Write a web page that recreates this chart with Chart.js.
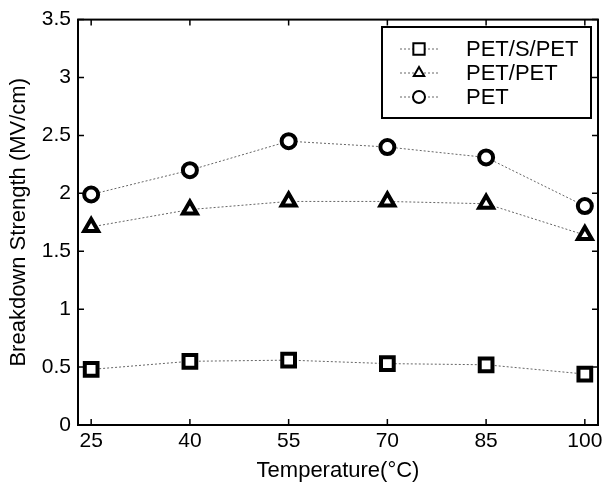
<!DOCTYPE html>
<html>
<head>
<meta charset="utf-8">
<script src="https://cdn.jsdelivr.net/npm/chart.js@4.4.1/dist/chart.umd.min.js"></script>
<style>
  html, body { margin: 0; padding: 0; background: #fff; }
  #wrap { width: 611px; height: 484px; }
</style>
</head>
<body>
<div id="wrap"><canvas id="bdChart" width="611" height="484"></canvas></div>
<script>
// 온도별 절연파괴 강도
var temps = [25, 40, 55, 70, 85, 100];
var yTicks = [0, 0.5, 1, 1.5, 2, 2.5, 3, 3.5];
var seriesNames = ['PET/S/PET', 'PET/PET', 'PET'];
var petSPet = [0.48, 0.55, 0.56, 0.53, 0.52, 0.44];
var petPet = [1.71, 1.86, 1.93, 1.93, 1.91, 1.64];
var pet = [1.99, 2.20, 2.45, 2.40, 2.31, 1.89];

var FONT = '"Liberation Sans", Arial, sans-serif';

function toXY(vals) {
    var out = [];
    for (var i = 0; i < temps.length; i++) out.push({x: temps[i], y: vals[i]});
    return out;
}

function ds(label, vals, style, r) {
    return {
        label: label,
        data: toXY(vals),
        borderColor: '#666',
        borderWidth: 1,
        borderDash: [2, 2],
        pointStyle: style,
        pointRadius: r,
        pointBorderWidth: 4,
        pointBorderColor: '#000',
        pointBackgroundColor: '#fff',
        tension: 0,
        fill: false
    };
}

// 안쪽 눈금 + 테두리 박스
var boxPlugin = {
    id: 'boxPlugin',
    afterDatasetsDraw: function(chart) {
        var c = chart.ctx, a = chart.chartArea;
        var xs = chart.scales.x, ys = chart.scales.y;
        c.save();
        c.strokeStyle = '#000';
        c.lineWidth = 2;
        c.strokeRect(a.left, a.top, a.right - a.left, a.bottom - a.top);
        c.lineWidth = 1.5;
        var len = 6;
        temps.forEach(function(t) {
            var px = xs.getPixelForValue(t);
            c.beginPath();
            c.moveTo(px, a.bottom); c.lineTo(px, a.bottom - len);
            c.moveTo(px, a.top); c.lineTo(px, a.top + len);
            c.stroke();
        });
        yTicks.forEach(function(v) {
            var py = ys.getPixelForValue(v);
            c.beginPath();
            c.moveTo(a.left, py); c.lineTo(a.left + len, py);
            c.moveTo(a.right, py); c.lineTo(a.right - len, py);
            c.stroke();
        });
        c.restore();
    }
};

// 그래프 안쪽 범례
var legendPlugin = {
    id: 'legendPlugin',
    afterDraw: function(chart) {
        var c = chart.ctx;
        var bx = 382, by = 27, bw = 209, bh = 91;
        c.save();
        c.fillStyle = '#fff';
        c.fillRect(bx, by, bw, bh);
        c.strokeStyle = '#000';
        c.lineWidth = 2;
        c.strokeRect(bx, by, bw, bh);
        var rows = [49, 73, 97];
        var rad = [8, 6, 6];
        chart.data.datasets.forEach(function(d, i) {
            var y = rows[i];
            c.strokeStyle = '#666';
            c.lineWidth = 1;
            c.setLineDash([2, 2]);
            c.beginPath();
            c.moveTo(400, y); c.lineTo(439, y);
            c.stroke();
            c.setLineDash([]);
            c.fillStyle = '#fff';
            c.strokeStyle = '#000';
            c.lineWidth = 2;
            Chart.helpers.drawPoint(c, {pointStyle: d.pointStyle, radius: rad[i], borderWidth: 2, rotation: 0}, 419, y);
            c.fillStyle = '#000';
            c.font = '22px ' + FONT;
            c.textBaseline = 'middle';
            c.textAlign = 'left';
            c.fillText(d.label, 466, y + 1);
        });
        c.restore();
    }
};

var ctx = document.getElementById('bdChart').getContext('2d');
var bdChart = new Chart(ctx, {
    type: 'line',
    data: {
        datasets: [
            ds(seriesNames[0], petSPet, 'rect', 9),
            ds(seriesNames[1], petPet, 'triangle', 8),
            ds(seriesNames[2], pet, 'circle', 7)
        ]
    },
    options: {
        responsive: false,
        animation: false,
        layout: { padding: { top: 17, right: 7, left: 0, bottom: 0 } },
        plugins: {
            legend: { display: false },
            tooltip: { enabled: false }
        },
        scales: {
            x: {
                type: 'linear',
                min: 23,
                max: 102,
                afterBuildTicks: function(s) {
                    s.ticks = temps.map(function(t) { return {value: t}; });
                },
                afterFit: function(s) { s.height = 59; },
                grid: { display: false, drawTicks: false },
                border: { display: false },
                ticks: {
                    color: '#000',
                    padding: 4,
                    font: { family: FONT, size: 21 },
                    maxRotation: 0
                },
                title: {
                    display: true,
                    text: 'Temperature(°C)',
                    color: '#000',
                    padding: { top: 0, bottom: 0 },
                    font: { family: FONT, size: 22 }
                }
            },
            y: {
                min: 0,
                max: 3.5,
                afterBuildTicks: function(s) {
                    s.ticks = yTicks.map(function(v) { return {value: v}; });
                },
                afterFit: function(s) { s.width = 78; },
                grid: { display: false, drawTicks: false },
                border: { display: false },
                ticks: {
                    color: '#000',
                    padding: 7,
                    font: { family: FONT, size: 21 },
                    callback: function(v) { return String(v); }
                },
                title: {
                    display: true,
                    text: 'Breakdown Strength (MV/cm)',
                    color: '#000',
                    padding: { top: 6, bottom: 0 },
                    font: { family: FONT, size: 22 }
                }
            }
        }
    },
    plugins: [boxPlugin, legendPlugin]
});
</script>
</body>
</html>
